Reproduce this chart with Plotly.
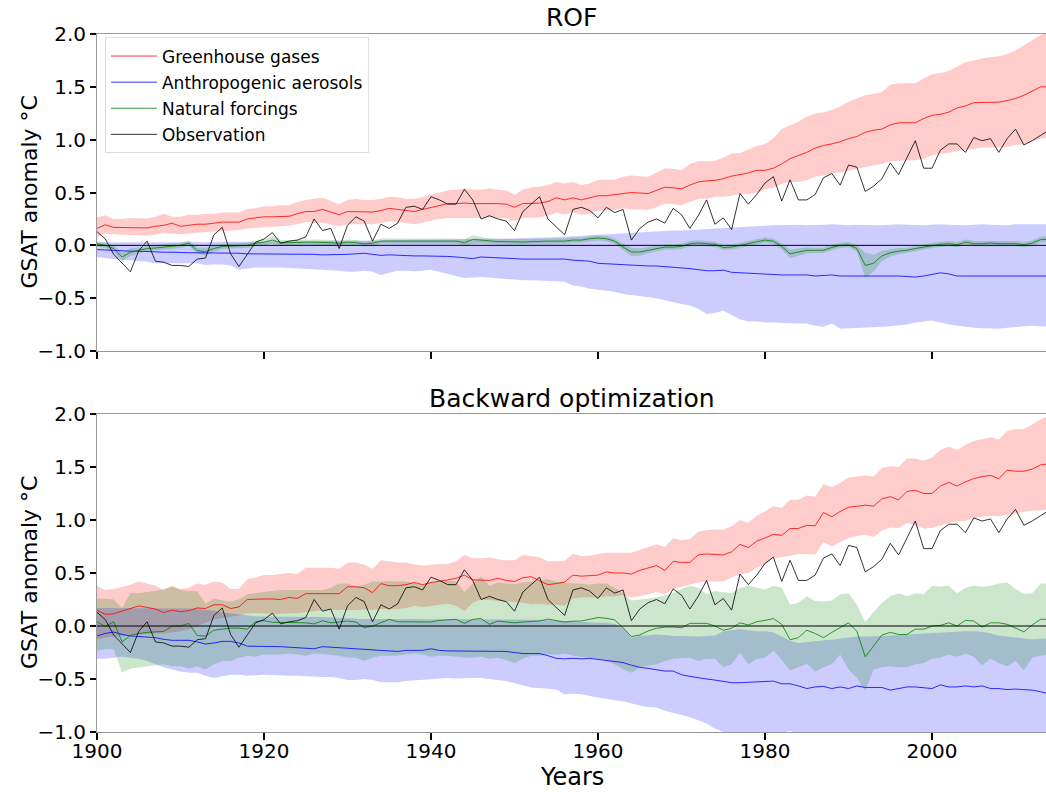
import plotly.graph_objects as go
from plotly.subplots import make_subplots

years = list(range(1900, 2015))

# observed GSAT anomaly (same in both panels)
obs = [
    0.13, 0.06, -0.085, -0.17, -0.25, -0.05, 0.04, -0.15, -0.16, -0.19,
    -0.19, -0.20, -0.13, -0.12, 0.10, 0.17, -0.08, -0.20, -0.08, 0.03,
    0.06, 0.12, 0.02, 0.04, 0.05, 0.08, 0.25, 0.14, 0.16, -0.03,
    0.19, 0.27, 0.23, 0.04, 0.20, 0.16, 0.21, 0.36, 0.37, 0.34,
    0.46, 0.43, 0.39, 0.39, 0.53, 0.43, 0.25, 0.28, 0.25, 0.23,
    0.14, 0.32, 0.39, 0.46, 0.25, 0.17, 0.10, 0.34, 0.36, 0.33,
    0.26, 0.36, 0.31, 0.34, 0.05, 0.16, 0.22, 0.25, 0.21, 0.35,
    0.29, 0.16, 0.28, 0.43, 0.20, 0.26, 0.15, 0.49, 0.39, 0.48,
    0.59, 0.65, 0.42, 0.62, 0.43, 0.43, 0.48, 0.64, 0.68, 0.57,
    0.76, 0.74, 0.51, 0.56, 0.63, 0.78, 0.67, 0.83, 0.99, 0.73,
    0.73, 0.90, 0.96, 0.96, 0.88, 1.02, 0.99, 1.01, 0.88, 1.01,
    1.10, 0.95, 0.99, 1.04, 1.09,
]

# ---- ROF ----
rof_ghg = [
    0.16, 0.195, 0.17, 0.17, 0.17, 0.17, 0.165, 0.18, 0.19, 0.21,
    0.18, 0.19, 0.20, 0.20, 0.21, 0.22, 0.22, 0.22, 0.25, 0.26,
    0.27, 0.27, 0.27, 0.275, 0.30, 0.32, 0.32, 0.34, 0.315, 0.29,
    0.32, 0.32, 0.315, 0.315, 0.33, 0.35, 0.34, 0.33, 0.32, 0.34,
    0.36, 0.38, 0.395, 0.395, 0.40, 0.395, 0.395, 0.40, 0.395, 0.39,
    0.36, 0.395, 0.40, 0.40, 0.415, 0.45, 0.43, 0.45, 0.43, 0.45,
    0.47, 0.47, 0.48, 0.49, 0.50, 0.495, 0.49, 0.52, 0.55, 0.545,
    0.535, 0.57, 0.60, 0.61, 0.615, 0.63, 0.655, 0.67, 0.685, 0.71,
    0.71, 0.73, 0.77, 0.82, 0.85, 0.88, 0.92, 0.945, 0.96, 0.98,
    1.01, 1.03, 1.07, 1.09, 1.10, 1.14, 1.16, 1.16, 1.16, 1.20,
    1.23, 1.24, 1.26, 1.30, 1.32, 1.35, 1.35, 1.355, 1.355, 1.37,
    1.39, 1.42, 1.46, 1.50, 1.50,
]
rof_ghg_lo = [
    0.08, 0.11, 0.105, 0.10, 0.095, 0.095, 0.09, 0.10, 0.12, 0.11,
    0.105, 0.11, 0.12, 0.125, 0.13, 0.14, 0.14, 0.145, 0.16, 0.165,
    0.17, 0.175, 0.18, 0.185, 0.20, 0.22, 0.215, 0.215, 0.20, 0.18,
    0.20, 0.20, 0.20, 0.20, 0.21, 0.23, 0.22, 0.21, 0.20, 0.22,
    0.235, 0.25, 0.26, 0.26, 0.265, 0.26, 0.26, 0.265, 0.26, 0.255,
    0.23, 0.26, 0.265, 0.265, 0.28, 0.31, 0.29, 0.315, 0.29, 0.30,
    0.33, 0.33, 0.335, 0.35, 0.34, 0.34, 0.335, 0.36, 0.395, 0.39,
    0.38, 0.41, 0.44, 0.44, 0.46, 0.46, 0.47, 0.485, 0.485, 0.50,
    0.53, 0.545, 0.58, 0.60, 0.60, 0.615, 0.65, 0.66, 0.685, 0.69,
    0.71, 0.725, 0.74, 0.757, 0.77, 0.795, 0.80, 0.805, 0.805, 0.82,
    0.85, 0.87, 0.875, 0.89, 0.905, 0.915, 0.925, 0.925, 0.925, 0.93,
    0.95, 0.96, 0.985, 1.01, 1.02,
]
rof_ghg_hi = [
    0.265, 0.285, 0.25, 0.25, 0.26, 0.26, 0.255, 0.27, 0.30, 0.27,
    0.27, 0.29, 0.29, 0.30, 0.30, 0.31, 0.31, 0.31, 0.345, 0.35,
    0.37, 0.37, 0.38, 0.38, 0.41, 0.43, 0.44, 0.45, 0.42, 0.39,
    0.43, 0.44, 0.43, 0.43, 0.44, 0.46, 0.455, 0.44, 0.44, 0.455,
    0.48, 0.50, 0.52, 0.525, 0.54, 0.525, 0.525, 0.54, 0.525, 0.52,
    0.48, 0.525, 0.55, 0.555, 0.57, 0.60, 0.585, 0.60, 0.57, 0.585,
    0.62, 0.62, 0.62, 0.65, 0.66, 0.655, 0.65, 0.69, 0.73, 0.725,
    0.71, 0.77, 0.795, 0.795, 0.80, 0.83, 0.87, 0.875, 0.91, 0.94,
    0.96, 1.01, 1.10, 1.135, 1.17, 1.22, 1.245, 1.26, 1.28, 1.315,
    1.36, 1.39, 1.42, 1.435, 1.45, 1.52, 1.535, 1.535, 1.535, 1.58,
    1.62, 1.63, 1.65, 1.69, 1.735, 1.75, 1.77, 1.78, 1.79, 1.81,
    1.845, 1.89, 1.94, 1.99, 2.03,
]
rof_aer = [
    -0.04, -0.045, -0.05, -0.05, -0.055, -0.055, -0.06, -0.06, -0.065, -0.065,
    -0.07, -0.07, -0.07, -0.07, -0.07, -0.07, -0.075, -0.075, -0.08, -0.08,
    -0.08, -0.08, -0.085, -0.085, -0.085, -0.085, -0.085, -0.09, -0.09, -0.085,
    -0.085, -0.08, -0.075, -0.085, -0.095, -0.09, -0.095, -0.095, -0.10, -0.10,
    -0.10, -0.10, -0.105, -0.11, -0.12, -0.125, -0.11, -0.115, -0.12, -0.12,
    -0.125, -0.13, -0.13, -0.13, -0.135, -0.135, -0.13, -0.14, -0.145, -0.15,
    -0.17, -0.175, -0.18, -0.18, -0.185, -0.19, -0.195, -0.195, -0.20, -0.21,
    -0.21, -0.22, -0.23, -0.24, -0.24, -0.235, -0.255, -0.26, -0.26, -0.265,
    -0.275, -0.28, -0.28, -0.28, -0.28, -0.28, -0.29, -0.285, -0.28, -0.29,
    -0.29, -0.29, -0.29, -0.29, -0.285, -0.29, -0.29, -0.295, -0.30, -0.29,
    -0.275, -0.26, -0.27, -0.29, -0.29, -0.29, -0.29, -0.29, -0.29, -0.29,
    -0.295, -0.29, -0.29, -0.29, -0.29,
]
rof_aer_lo = [
    -0.11, -0.12, -0.13, -0.14, -0.14, -0.15, -0.155, -0.17, -0.17, -0.165,
    -0.17, -0.17, -0.17, -0.185, -0.18, -0.18, -0.19, -0.23, -0.22, -0.21,
    -0.21, -0.21, -0.21, -0.21, -0.215, -0.22, -0.23, -0.23, -0.235, -0.24,
    -0.25, -0.25, -0.24, -0.25, -0.28, -0.26, -0.24, -0.24, -0.245, -0.24,
    -0.23, -0.25, -0.27, -0.29, -0.31, -0.305, -0.30, -0.31, -0.315, -0.32,
    -0.325, -0.33, -0.33, -0.335, -0.34, -0.34, -0.345, -0.38, -0.39, -0.41,
    -0.42, -0.43, -0.44, -0.46, -0.47, -0.48, -0.49, -0.50, -0.52, -0.54,
    -0.555, -0.57, -0.60, -0.65, -0.64, -0.62, -0.66, -0.70, -0.72, -0.72,
    -0.73, -0.73, -0.735, -0.74, -0.74, -0.74, -0.76, -0.77, -0.74, -0.79,
    -0.785, -0.78, -0.78, -0.775, -0.77, -0.765, -0.76, -0.75, -0.73, -0.72,
    -0.71, -0.73, -0.75, -0.76, -0.77, -0.78, -0.785, -0.79, -0.79, -0.78,
    -0.77, -0.765, -0.76, -0.765, -0.77,
]
rof_aer_hi = [
    0.03, 0.03, 0.025, 0.025, 0.03, 0.03, 0.03, 0.025, 0.03, 0.03,
    0.03, 0.035, 0.03, 0.03, 0.035, 0.035, 0.03, 0.03, 0.035, 0.035,
    0.035, 0.04, 0.035, 0.035, 0.04, 0.04, 0.04, 0.04, 0.04, 0.04,
    0.045, 0.045, 0.045, 0.04, 0.045, 0.05, 0.05, 0.05, 0.05, 0.05,
    0.05, 0.055, 0.055, 0.055, 0.06, 0.06, 0.06, 0.06, 0.06, 0.065,
    0.065, 0.07, 0.07, 0.075, 0.075, 0.08, 0.08, 0.085, 0.09, 0.095,
    0.10, 0.105, 0.11, 0.115, 0.12, 0.125, 0.13, 0.13, 0.135, 0.14,
    0.14, 0.145, 0.15, 0.155, 0.16, 0.165, 0.17, 0.175, 0.175, 0.18,
    0.185, 0.19, 0.19, 0.195, 0.195, 0.19, 0.19, 0.195, 0.20, 0.195,
    0.19, 0.195, 0.19, 0.19, 0.19, 0.195, 0.20, 0.195, 0.19, 0.19,
    0.195, 0.20, 0.195, 0.19, 0.19, 0.195, 0.20, 0.195, 0.19, 0.19,
    0.20, 0.20, 0.195, 0.20, 0.20,
]
rof_nat = [
    0.015, 0.0, -0.03, -0.11, -0.065, -0.05, -0.03, -0.025, -0.015, -0.01,
    0.0, 0.02, -0.05, -0.06, -0.03, -0.01, -0.005, 0.0, 0.0, 0.02,
    0.03, 0.05, 0.025, 0.025, 0.03, 0.03, 0.03, 0.03, 0.025, 0.02,
    0.03, 0.025, 0.015, 0.02, 0.04, 0.04, 0.04, 0.04, 0.035, 0.035,
    0.04, 0.04, 0.04, 0.04, 0.025, 0.055, 0.05, 0.04, 0.035, 0.035,
    0.03, 0.03, 0.035, 0.04, 0.04, 0.04, 0.04, 0.05, 0.05, 0.063,
    0.07, 0.063, 0.04, -0.016, -0.063, -0.063, -0.047, -0.03, -0.016, -0.016,
    -0.01, 0.016, 0.022, 0.016, 0.01, -0.02, -0.016, 0.0, 0.016, 0.03,
    0.05, 0.04, -0.01, -0.08, -0.063, -0.047, -0.047, -0.047, -0.02, 0.0,
    0.006, -0.03, -0.19, -0.17, -0.10, -0.07, -0.055, -0.047, -0.03, -0.016,
    0.0, 0.01, 0.016, 0.006, 0.03, 0.016, 0.016, 0.022, 0.016, 0.016,
    0.016, 0.006, 0.022, 0.054, 0.057,
]
# half-width of the natural-forcing band (ROF)
rof_nat_spread = [
    0.025, 0.025, 0.03, 0.04, 0.035, 0.03, 0.025, 0.025, 0.025, 0.025,
    0.025, 0.025, 0.03, 0.035, 0.03, 0.025, 0.025, 0.025, 0.025, 0.025,
    0.025, 0.035, 0.025, 0.025, 0.025, 0.025, 0.025, 0.025, 0.025, 0.025,
    0.025, 0.025, 0.025, 0.025, 0.025, 0.025, 0.025, 0.025, 0.025, 0.025,
    0.025, 0.025, 0.025, 0.025, 0.03, 0.04, 0.03, 0.025, 0.025, 0.025,
    0.025, 0.025, 0.025, 0.025, 0.025, 0.025, 0.025, 0.025, 0.025, 0.025,
    0.025, 0.025, 0.025, 0.03, 0.04, 0.035, 0.03, 0.025, 0.025, 0.025,
    0.025, 0.025, 0.025, 0.025, 0.025, 0.025, 0.025, 0.025, 0.025, 0.025,
    0.025, 0.025, 0.03, 0.04, 0.035, 0.03, 0.025, 0.025, 0.025, 0.025,
    0.025, 0.03, 0.12, 0.08, 0.05, 0.035, 0.03, 0.025, 0.025, 0.025,
    0.025, 0.025, 0.025, 0.025, 0.025, 0.025, 0.025, 0.025, 0.025, 0.025,
    0.025, 0.025, 0.025, 0.03, 0.03,
]

# ---- Backward optimization ----
bo_ghg = [
    0.15, 0.11, 0.115, 0.14, 0.16, 0.19, 0.175, 0.16, 0.126, 0.15,
    0.135, 0.145, 0.17, 0.165, 0.20, 0.20, 0.165, 0.18, 0.25, 0.255,
    0.255, 0.255, 0.25, 0.27, 0.26, 0.305, 0.305, 0.31, 0.31, 0.305,
    0.37, 0.37, 0.36, 0.315, 0.40, 0.38, 0.38, 0.39, 0.41, 0.39,
    0.41, 0.42, 0.435, 0.45, 0.48, 0.435, 0.435, 0.43, 0.45, 0.43,
    0.42, 0.455, 0.465, 0.43, 0.39, 0.40, 0.415, 0.48, 0.47, 0.475,
    0.48, 0.51, 0.50, 0.50, 0.49, 0.525, 0.545, 0.57, 0.525, 0.61,
    0.60, 0.60, 0.67, 0.68, 0.675, 0.67, 0.70, 0.77, 0.74, 0.80,
    0.83, 0.865, 0.855, 0.92, 0.92, 0.95, 0.945, 1.07, 1.03, 1.08,
    1.12, 1.13, 1.14, 1.13, 1.20, 1.22, 1.19, 1.27, 1.28, 1.25,
    1.25, 1.32, 1.355, 1.32, 1.36, 1.39, 1.41, 1.42, 1.39, 1.47,
    1.46, 1.46, 1.48, 1.52, 1.53,
]
bo_ghg_lo = [
    -0.125, -0.11, -0.10, -0.09, -0.085, -0.08, -0.075, -0.07, -0.07, -0.06,
    -0.05, -0.03, -0.005, 0.03, 0.06, 0.075, 0.09, 0.10, 0.12, 0.12,
    0.12, 0.11, 0.115, 0.12, 0.12, 0.13, 0.14, 0.15, 0.15, 0.15,
    0.15, 0.15, 0.155, 0.15, 0.16, 0.16, 0.16, 0.17, 0.19, 0.18,
    0.19, 0.20, 0.21, 0.19, 0.14, 0.22, 0.25, 0.24, 0.24, 0.23,
    0.225, 0.22, 0.205, 0.21, 0.20, 0.20, 0.19, 0.26, 0.27, 0.27,
    0.27, 0.28, 0.28, 0.29, 0.27, 0.28, 0.30, 0.32, 0.30, 0.35,
    0.37, 0.39, 0.41, 0.42, 0.42, 0.42, 0.46, 0.49, 0.50, 0.55,
    0.58, 0.64, 0.65, 0.66, 0.68, 0.68, 0.675, 0.79, 0.75, 0.79,
    0.83, 0.85, 0.86, 0.84, 0.90, 0.93, 0.925, 0.97, 0.95, 0.92,
    0.925, 0.95, 0.97, 0.99, 0.99, 1.02, 1.03, 1.04, 1.035, 1.05,
    1.065, 1.075, 1.09, 1.09, 1.10,
]
bo_ghg_hi = [
    0.38, 0.34, 0.35, 0.37, 0.39, 0.42, 0.40, 0.38, 0.34, 0.38,
    0.35, 0.36, 0.40, 0.39, 0.42, 0.41, 0.35, 0.35, 0.44, 0.46,
    0.48, 0.48, 0.49, 0.50, 0.49, 0.55, 0.55, 0.55, 0.55, 0.54,
    0.60, 0.60, 0.58, 0.54, 0.62, 0.61, 0.60, 0.60, 0.58, 0.57,
    0.58, 0.585, 0.585, 0.61, 0.67, 0.64, 0.64, 0.645, 0.63, 0.62,
    0.62, 0.67, 0.66, 0.645, 0.61, 0.615, 0.615, 0.68, 0.66, 0.665,
    0.675, 0.69, 0.69, 0.69, 0.69, 0.72, 0.745, 0.77, 0.745, 0.83,
    0.81, 0.82, 0.89, 0.905, 0.91, 0.91, 0.94, 1.00, 0.975, 1.04,
    1.08, 1.13, 1.115, 1.19, 1.19, 1.23, 1.22, 1.34, 1.31, 1.35,
    1.40, 1.41, 1.42, 1.41, 1.49, 1.51, 1.50, 1.58, 1.58, 1.56,
    1.59, 1.66, 1.69, 1.66, 1.71, 1.745, 1.76, 1.78, 1.76, 1.84,
    1.855, 1.86, 1.90, 1.95, 1.98,
]
bo_aer = [
    -0.094, -0.07, -0.057, -0.08, -0.094, -0.10, -0.11, -0.11, -0.126, -0.135,
    -0.135, -0.135, -0.15, -0.17, -0.16, -0.145, -0.145, -0.16, -0.19, -0.19,
    -0.19, -0.195, -0.195, -0.20, -0.205, -0.21, -0.215, -0.195, -0.20, -0.21,
    -0.215, -0.22, -0.225, -0.225, -0.23, -0.24, -0.24, -0.23, -0.23, -0.23,
    -0.215, -0.23, -0.235, -0.235, -0.235, -0.235, -0.235, -0.235, -0.24, -0.24,
    -0.25, -0.26, -0.26, -0.26, -0.28, -0.305, -0.31, -0.305, -0.31, -0.305,
    -0.315, -0.325, -0.33, -0.345, -0.37, -0.39, -0.40, -0.41, -0.425, -0.425,
    -0.46, -0.475, -0.49, -0.50, -0.51, -0.525, -0.535, -0.535, -0.53, -0.525,
    -0.52, -0.52, -0.545, -0.545, -0.565, -0.59, -0.575, -0.57, -0.59, -0.575,
    -0.59, -0.565, -0.58, -0.58, -0.58, -0.605, -0.59, -0.575, -0.575, -0.58,
    -0.59, -0.555, -0.575, -0.575, -0.565, -0.575, -0.565, -0.59, -0.59, -0.60,
    -0.595, -0.60, -0.605, -0.62, -0.64,
]
bo_aer_lo = [
    -0.31, -0.31, -0.30, -0.29, -0.30, -0.31, -0.33, -0.36, -0.39, -0.41,
    -0.43, -0.44, -0.44, -0.47, -0.49, -0.475, -0.46, -0.46, -0.47, -0.465,
    -0.46, -0.46, -0.465, -0.47, -0.47, -0.47, -0.475, -0.48, -0.48, -0.49,
    -0.51, -0.51, -0.50, -0.51, -0.53, -0.53, -0.53, -0.52, -0.51, -0.505,
    -0.50, -0.495, -0.49, -0.495, -0.495, -0.49, -0.49, -0.50, -0.51, -0.52,
    -0.54, -0.56, -0.58, -0.585, -0.59, -0.60, -0.645, -0.64, -0.645, -0.66,
    -0.675, -0.69, -0.70, -0.71, -0.73, -0.75, -0.765, -0.77, -0.80, -0.82,
    -0.84, -0.86, -0.89, -0.92, -0.97, -1.00, -1.04, -1.06, -1.07, -1.05,
    -1.02, -1.00, -1.01, -0.99, -1.03, -1.06, -1.08, -1.10, -1.10, -1.10,
    -1.10, -1.10, -1.12, -1.12, -1.12, -1.12, -1.12, -1.12, -1.12, -1.12,
    -1.12, -1.12, -1.12, -1.12, -1.12, -1.12, -1.12, -1.12, -1.12, -1.12,
    -1.12, -1.12, -1.12, -1.12, -1.12,
]
bo_aer_hi = [
    0.17, 0.17, 0.17, 0.17, 0.165, 0.165, 0.165, 0.165, 0.165, 0.165,
    0.165, 0.165, 0.16, 0.155, 0.145, 0.13, 0.12, 0.11, 0.10, 0.09,
    0.09, 0.09, 0.085, 0.085, 0.085, 0.085, 0.085, 0.085, 0.08, 0.075,
    0.07, 0.07, 0.065, 0.065, 0.065, 0.065, 0.065, 0.065, 0.065, 0.065,
    0.065, 0.065, 0.06, 0.06, 0.06, 0.06, 0.06, 0.06, 0.06, 0.06,
    0.06, 0.06, 0.06, 0.06, 0.055, 0.05, 0.045, 0.04, 0.035, 0.03,
    0.03, 0.03, 0.02, -0.016, -0.11, -0.095, -0.085, -0.08, -0.085, -0.095,
    -0.095, -0.10, -0.10, -0.095, -0.09, -0.05, -0.04, -0.03, -0.04, -0.05,
    -0.05, -0.06, -0.10, -0.14, -0.16, -0.15, -0.14, -0.135, -0.13, -0.12,
    -0.11, -0.10, -0.10, -0.10, -0.095, -0.09, -0.085, -0.08, -0.075, -0.07,
    -0.065, -0.06, -0.055, -0.05, -0.05, -0.05, -0.055, -0.07, -0.09, -0.10,
    -0.11, -0.12, -0.125, -0.12, -0.115,
]
bo_nat = [
    0.04, -0.005, 0.04, -0.15, -0.09, -0.07, -0.06, -0.055, -0.05, 0.0,
    0.0, 0.025, -0.09, -0.095, -0.04, -0.03, -0.02, -0.02, -0.03, 0.04,
    0.05, 0.035, 0.035, 0.035, 0.03, 0.03, 0.02, 0.05, 0.03, 0.04,
    0.047, 0.038, -0.016, 0.0, 0.03, 0.063, 0.04, 0.038, 0.038, 0.038,
    0.038, 0.053, 0.057, 0.063, 0.025, 0.063, 0.07, 0.016, 0.047, 0.038,
    0.03, 0.038, 0.04, 0.047, 0.065, 0.053, 0.038, 0.045, 0.047, 0.063,
    0.08, 0.073, 0.057, -0.016, -0.10, -0.085, -0.047, -0.022, -0.01, -0.01,
    -0.016, 0.025, 0.022, 0.025, 0.0, -0.04, -0.022, 0.03, 0.01, 0.04,
    0.053, 0.07, 0.016, -0.13, -0.11, -0.04, -0.07, -0.11, -0.06, -0.016,
    0.03, -0.05, -0.29, -0.19, -0.085, -0.06, -0.08, -0.08, -0.03, -0.03,
    0.0, 0.006, 0.03, 0.0, 0.053, 0.047, -0.01, 0.03, 0.03, 0.016,
    -0.016, -0.055, 0.01, 0.063, 0.063,
]
bo_nat_lo = [
    -0.23, -0.22, -0.22, -0.44, -0.40, -0.39, -0.38, -0.37, -0.36, -0.38,
    -0.38, -0.40, -0.38, -0.41, -0.36, -0.33, -0.33, -0.30, -0.28, -0.29,
    -0.27, -0.27, -0.27, -0.26, -0.27, -0.28, -0.26, -0.265, -0.27, -0.28,
    -0.30, -0.30, -0.33, -0.30, -0.28, -0.28, -0.28, -0.27, -0.26, -0.27,
    -0.29, -0.28, -0.28, -0.29, -0.30, -0.30, -0.29, -0.31, -0.30, -0.32,
    -0.35, -0.31, -0.28, -0.28, -0.27, -0.27, -0.26, -0.28, -0.285, -0.30,
    -0.31, -0.33, -0.36, -0.41, -0.44, -0.39, -0.375, -0.36, -0.33, -0.31,
    -0.305, -0.30, -0.33, -0.31, -0.31, -0.39, -0.36, -0.25, -0.36, -0.31,
    -0.30, -0.23, -0.32, -0.42, -0.39, -0.355, -0.43, -0.39, -0.36, -0.27,
    -0.41, -0.49, -0.61, -0.41, -0.39, -0.38, -0.39, -0.39, -0.36, -0.35,
    -0.31, -0.30, -0.27, -0.29, -0.26, -0.29, -0.37, -0.31, -0.35, -0.38,
    -0.33, -0.42, -0.30, -0.28, -0.27,
]
bo_nat_hi = [
    0.26, 0.26, 0.25, 0.17, 0.31, 0.31, 0.32, 0.33, 0.35, 0.37,
    0.34, 0.33, 0.33, 0.21, 0.26, 0.24, 0.23, 0.25, 0.30, 0.31,
    0.32, 0.33, 0.34, 0.34, 0.34, 0.345, 0.34, 0.34, 0.36, 0.40,
    0.40, 0.37, 0.39, 0.42, 0.42, 0.425, 0.42, 0.42, 0.40, 0.39,
    0.41, 0.42, 0.43, 0.42, 0.32, 0.40, 0.47, 0.38, 0.41, 0.40,
    0.395, 0.41, 0.42, 0.43, 0.44, 0.42, 0.41, 0.40, 0.40, 0.39,
    0.40, 0.40, 0.36, 0.31, 0.24, 0.25, 0.26, 0.27, 0.29, 0.31,
    0.35, 0.38, 0.36, 0.30, 0.33, 0.32, 0.31, 0.36, 0.38, 0.36,
    0.345, 0.38, 0.36, 0.20, 0.22, 0.28, 0.235, 0.23, 0.24, 0.30,
    0.31, 0.20, 0.04, 0.13, 0.22, 0.28, 0.31, 0.28, 0.31, 0.30,
    0.38, 0.37, 0.38, 0.31, 0.36, 0.38, 0.37, 0.38, 0.40, 0.41,
    0.35, 0.305, 0.31, 0.40, 0.40,
]

names = ["Greenhouse gases", "Anthropogenic aerosols", "Natural forcings"]
line_colors = ["rgba(255,0,0,0.8)", "rgba(0,0,255,0.8)", "rgba(0,128,0,0.8)"]
band_colors = ["rgba(255,0,0,0.2)", "rgba(0,0,255,0.2)", "rgba(0,128,0,0.2)"]

rof_nat_lo = [m - s for m, s in zip(rof_nat, rof_nat_spread)]
rof_nat_hi = [m + s for m, s in zip(rof_nat, rof_nat_spread)]

panels = [
    ([rof_ghg, rof_aer, rof_nat],
     [rof_ghg_lo, rof_aer_lo, rof_nat_lo],
     [rof_ghg_hi, rof_aer_hi, rof_nat_hi]),
    ([bo_ghg, bo_aer, bo_nat],
     [bo_ghg_lo, bo_aer_lo, bo_nat_lo],
     [bo_ghg_hi, bo_aer_hi, bo_nat_hi]),
]

fig = make_subplots(rows=2, cols=1, vertical_spacing=0.09)

for row, (means, los, his) in enumerate(panels, start=1):
    for lo, hi, col in zip(los, his, band_colors):
        fig.add_trace(go.Scatter(x=years + years[::-1], y=hi + lo[::-1],
                                 fill="toself", fillcolor=col, mode="lines",
                                 line=dict(width=0), showlegend=False,
                                 hoverinfo="skip"), row=row, col=1)
    fig.add_hline(y=0.0, line=dict(color="black", width=1), row=row, col=1)
    for m, name, col in zip(means, names, line_colors):
        fig.add_trace(go.Scatter(x=years, y=m, mode="lines", name=name,
                                 legendgroup=name,
                                 line=dict(color=col, width=1),
                                 showlegend=(row == 1)), row=row, col=1)
    fig.add_trace(go.Scatter(x=years, y=obs, mode="lines", name="Observation",
                             legendgroup="Observation",
                             line=dict(color="rgba(0,0,0,0.8)", width=1),
                             showlegend=(row == 1)), row=row, col=1)

axis_font = dict(family="DejaVu Sans", size=20, color="black")
label_font = dict(family="DejaVu Sans", size=22, color="black")
title_font = dict(family="DejaVu Sans", size=25, color="black")
common_x = dict(range=[1900, 2013.65], tickvals=list(range(1900, 2001, 20)),
                ticks="outside", ticklen=7, tickwidth=1.5, tickcolor="black",
                showline=True, linecolor="#999999", linewidth=1, mirror=True,
                showgrid=False, zeroline=False, tickfont=axis_font,
                automargin=False)
common_y = dict(range=[-1.0, 2.0], tickvals=[-1.0, -0.5, 0.0, 0.5, 1.0, 1.5, 2.0],
                tickformat=".1f", ticks="outside", ticklen=6, tickwidth=1.5,
                tickcolor="black", showline=True, linecolor="#999999",
                linewidth=1, showgrid=False, zeroline=False, tickfont=axis_font,
                automargin=False)

fig.update_xaxes(**common_x)
fig.update_xaxes(showticklabels=False, row=1, col=1)
fig.update_xaxes(ticklabelstandoff=-6, row=2, col=1)
fig.update_yaxes(**common_y)

top_dom = [0.5458, 1.0]
bot_dom = [0.0, 0.4556]

fig.update_layout(
    width=1046, height=792,
    margin=dict(l=97, r=0, t=34, b=60, autoexpand=False),
    plot_bgcolor="white", paper_bgcolor="white",
    font=dict(family="DejaVu Sans", color="black"),
    yaxis=dict(domain=top_dom),
    yaxis2=dict(domain=bot_dom),
    legend=dict(x=0.0084, y=0.995, xanchor="left", yanchor="top",
                bgcolor="rgba(255,255,255,0.8)", bordercolor="#dddddd",
                borderwidth=1, tracegroupgap=1, itemwidth=46,
                font=dict(family="DejaVu Sans", size=17)),
    annotations=[
        dict(text="ROF", x=0.5, y=top_dom[1], xref="paper", yref="paper",
             xanchor="center", yanchor="bottom", showarrow=False, yshift=0,
             font=title_font),
        dict(text="Backward optimization", x=0.5, y=bot_dom[1], xref="paper",
             yref="paper", xanchor="center", yanchor="bottom", showarrow=False,
             yshift=-1, font=title_font),
        dict(text="GSAT anomaly °C", x=-0.0706, y=sum(top_dom) / 2,
             xref="paper", yref="paper", xanchor="center", yanchor="middle",
             textangle=-90, showarrow=False, font=label_font),
        dict(text="GSAT anomaly °C", x=-0.0706, y=sum(bot_dom) / 2,
             xref="paper", yref="paper", xanchor="center", yanchor="middle",
             textangle=-90, showarrow=False, font=label_font),
        dict(text="Years", x=0.5, y=-0.0645, xref="paper", yref="paper",
             xanchor="center", yanchor="middle", showarrow=False,
             font=dict(family="DejaVu Sans", size=24, color="black")),
    ],
)

# page body margin would otherwise shift the figure by 8 px
fig.write_html("out.html", config={"displayModeBar": False},
               post_script="document.body.style.margin='0';"
                           "document.body.style.overflow='hidden';")
